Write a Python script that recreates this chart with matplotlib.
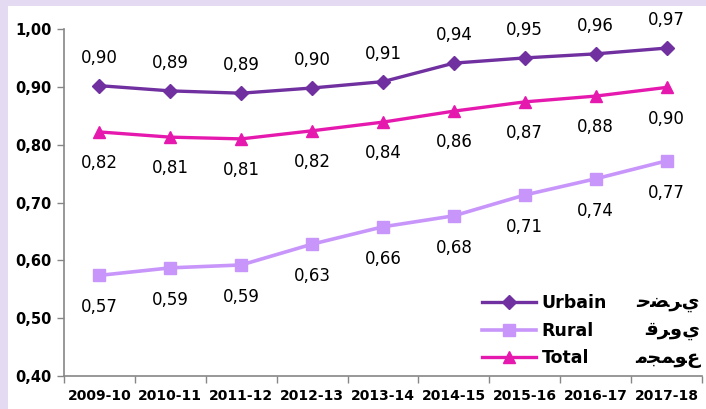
import matplotlib
matplotlib.use("Agg")
import matplotlib.pyplot as plt
from matplotlib.patches import Rectangle

categories = ["2009-10", "2010-11", "2011-12", "2012-13", "2013-14",
              "2014-15", "2015-16", "2016-17", "2017-18"]
urbain = [0.902, 0.893, 0.889, 0.898, 0.909, 0.941, 0.950, 0.957, 0.967]
rural = [0.574, 0.587, 0.592, 0.628, 0.658, 0.677, 0.713, 0.741, 0.772]
total = [0.822, 0.813, 0.810, 0.824, 0.839, 0.858, 0.874, 0.884, 0.899]
series_names = ["Urbain", "Rural", "Total"]
arabic_names = ["حضري", "قروي", "مجموع"]
yticks = [0.40, 0.50, 0.60, 0.70, 0.80, 0.90, 1.00]

# minimal Arabic joining (contextual forms): (isolated, final, initial, medial)
FORMS = {
    "ح": ("\uFEA1", "\uFEA2", "\uFEA3", "\uFEA4"),
    "ض": ("\uFEBD", "\uFEBE", "\uFEBF", "\uFEC0"),
    "ر": ("\uFEAD", "\uFEAE", None, None),
    "ي": ("\uFEF1", "\uFEF2", "\uFEF3", "\uFEF4"),
    "ق": ("\uFED5", "\uFED6", "\uFED7", "\uFED8"),
    "و": ("\uFEED", "\uFEEE", None, None),
    "م": ("\uFEE1", "\uFEE2", "\uFEE3", "\uFEE4"),
    "ج": ("\uFE9D", "\uFE9E", "\uFE9F", "\uFEA0"),
    "ع": ("\uFEC9", "\uFECA", "\uFECB", "\uFECC"),
}


def shape(word):
    out = []
    n = len(word)
    for i, ch in enumerate(word):
        f = FORMS[ch]
        prev_joins = i > 0 and FORMS[word[i - 1]][2] is not None
        can_join_next = f[2] is not None and i < n - 1
        if prev_joins and can_join_next:
            out.append(f[3])
        elif prev_joins:
            out.append(f[1])
        elif can_join_next:
            out.append(f[2])
        else:
            out.append(f[0])
    return "".join(out)


W, H = 706, 409
fig = plt.figure(figsize=(W / 100, H / 100), dpi=100)
fig.patch.set_facecolor("#E4DAF2")
fig.add_artist(Rectangle((8 / W, 0), 1 - 8 / W, 1 - 6 / H, transform=fig.transFigure,
                         facecolor="white", edgecolor="none", zorder=0))

ax = fig.add_axes([64 / W, 33 / H, (702 - 64) / W, (376 - 29) / H])
ax.set_facecolor("none")

x = list(range(len(categories)))
c_urb, c_rur, c_tot = "#7030A0", "#C896FA", "#E619AE"

ax.plot(x, urbain, color=c_urb, lw=2.4, marker="D", ms=7, label=series_names[0], zorder=3)
ax.plot(x, rural, color=c_rur, lw=2.6, marker="s", ms=8, label=series_names[1], zorder=3)
ax.plot(x, total, color=c_tot, lw=2.4, marker="^", ms=9, label=series_names[2], zorder=3)


def fmt(v):
    return f"{v:.2f}".replace(".", ",")


for xi, v in zip(x, urbain):
    ax.annotate(fmt(v), (xi, v), xytext=(0, 20), textcoords="offset points",
                ha="center", va="center", fontsize=12, color="black")
for xi, v in zip(x, total):
    ax.annotate(fmt(v), (xi, v), xytext=(0, -22.5), textcoords="offset points",
                ha="center", va="center", fontsize=12, color="black")
for xi, v in zip(x, rural):
    ax.annotate(fmt(v), (xi, v), xytext=(0, -23), textcoords="offset points",
                ha="center", va="center", fontsize=12, color="black")

ax.set_xlim(-0.5, len(categories) - 0.5)
ax.set_ylim(0.40, 1.00)
ax.set_yticks(yticks)
ax.set_yticklabels([f"{t:.2f}".replace(".", ",") for t in yticks],
                   fontsize=10.5, fontweight="bold")
ax.set_xticks([i + 0.5 for i in range(-1, len(categories))], minor=False)
ax.set_xticklabels([])
ax.set_xticks(x, minor=True)
ax.set_xticklabels(categories, minor=True, fontsize=10, fontweight="bold")
ax.tick_params(axis="x", which="major", length=5, color="#868686", width=1, direction="out")
ax.tick_params(axis="x", which="minor", length=0, pad=9)
ax.tick_params(axis="y", length=5, color="#868686", width=1, direction="out", pad=4)

for s in ["top", "right"]:
    ax.spines[s].set_visible(False)
for s in ["left", "bottom"]:
    ax.spines[s].set_color("#868686")
    ax.spines[s].set_linewidth(1.2)

leg = ax.legend(loc="lower left", bbox_to_anchor=(0.645, 0.005), frameon=False,
                prop={"weight": "bold", "size": 12.5}, handlelength=3.1,
                handletextpad=0.3, labelspacing=0.56, borderaxespad=0)
fig.canvas.draw()
texts = leg.get_texts()
inv = ax.transAxes.inverted()
for t, ar in zip(texts, arabic_names):
    bb = t.get_window_extent()
    yc = inv.transform(((bb.x0 + bb.x1) / 2, (bb.y0 + bb.y1) / 2))[1]
    ax.text(0.997, yc, shape(ar), transform=ax.transAxes, ha="right", va="center",
            fontsize=14, fontweight="bold", family="DejaVu Sans")

fig.savefig("out.png", dpi=100, facecolor=fig.get_facecolor())
